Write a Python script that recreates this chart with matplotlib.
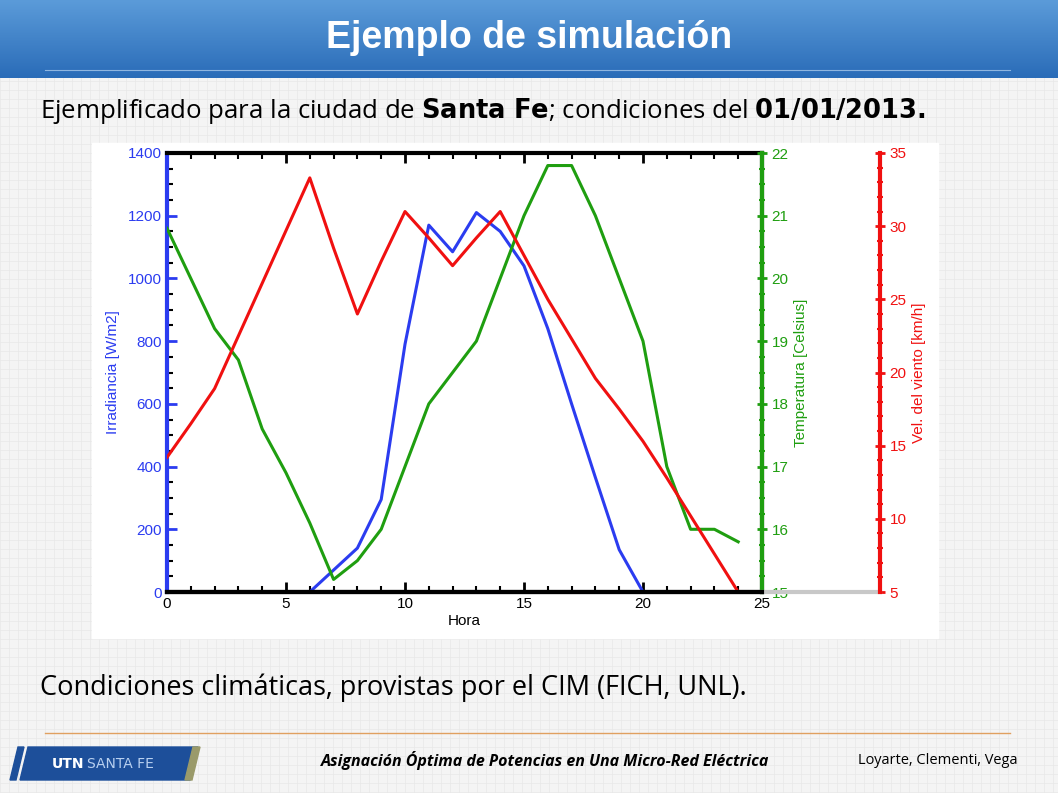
import matplotlib
matplotlib.use('Agg')
import matplotlib.pyplot as plt
import numpy as np
from matplotlib.patches import Rectangle, Polygon

# ---- data ----
horas = list(range(0, 25))
irradiancia = [0, 0, 0, 0, 0, 0, 0, 70, 140, 295, 790, 1170, 1085, 1210, 1150,
               1040, 840, 600, 365, 135, 0, 0, 0, 0, 0]
temperatura = [20.8, 20.0, 19.2, 18.7, 17.6, 16.9, 16.1, 15.2, 15.5, 16.0, 17.0, 18.0,
               18.5, 19.0, 20.0, 21.0, 21.8, 21.8, 21.0, 20.0, 19.0, 17.0, 16.0, 16.0, 15.8]
viento = [14.2, 16.5, 18.9, 22.5, 26.1, 29.7, 33.3, 28.5, 24.0, 27.6, 31.0, 29.2, 27.3,
          29.2, 31.0, 28.0, 25.0, 22.3, 19.6, 17.5, 15.3, 12.8, 10.2, 7.6, 5.0]

BLUE = '#2b3cf0'
GREEN = '#1f9e10'
RED = '#f01010'
FONT = 'Liberation Sans'

fig = plt.figure(figsize=(10.58, 7.93), dpi=100)
fig.patch.set_facecolor('#f4f4f4')

# background grid texture
bg = fig.add_axes([0, 0, 1, 1], zorder=-10)
bg.set_xlim(0, 1058); bg.set_ylim(793, 0); bg.axis('off')
for x in np.arange(0, 1058, 9):
    bg.axvline(x, color='#e8e8e8', lw=0.5, zorder=0)
for y in np.arange(0, 793, 9):
    bg.axhline(y, color='#e8e8e8', lw=0.5, zorder=0)

# title bar gradient
grad = np.linspace(0, 1, 80).reshape(-1, 1)
bg.imshow(grad, extent=[0, 1058, 78, 0], cmap=matplotlib.colors.LinearSegmentedColormap.from_list(
    'b', ['#5b9bd9', '#2a6cb8']), aspect='auto', zorder=1)
bg.set_xlim(0, 1058); bg.set_ylim(793, 0)
bg.plot([45, 1010], [70, 70], color='#8fb6e0', lw=0.8, zorder=2)
bg.text(529, 38, 'Ejemplo de simulación', color='white', fontsize=27, fontweight='bold',
        ha='center', va='center', family=FONT, zorder=3)

bg.text(40, 111, 'Ejemplificado para la ciudad de $\\bf{Santa\\ Fe}$; condiciones del $\\bf{01/01/2013.}$',
        fontsize=18.5, family='Open Sans', va='center', ha='left')
bg.text(40, 688, 'Condiciones climáticas, provistas por el CIM (FICH, UNL).',
        fontsize=19.5, family='Open Sans', va='center', ha='left')

# footer
bg.plot([45, 1010], [733, 733], color='#e0a060', lw=1)
bg.add_patch(Polygon([[28, 747], [198, 747], [190, 780], [20, 780]], color='#1d4f9a', zorder=2))
bg.add_patch(Polygon([[193, 747], [200, 747], [192, 780], [185, 780]], color='#9a9a6a', zorder=3))
bg.add_patch(Polygon([[18, 747], [24, 747], [16, 780], [10, 780]], color='#1d4f9a', zorder=3))
bg.text(52, 764, 'UTN', color='white', fontsize=10, fontweight='bold', va='center', zorder=4)
bg.text(87, 764, 'SANTA FE', color='#b8d0f0', fontsize=10, va='center', zorder=4)
bg.text(545, 761, 'Asignación Óptima de Potencias en Una Micro-Red Eléctrica', fontsize=11.5,
        style='italic', fontweight='bold', family='Open Sans', ha='center', va='center')
bg.text(1018, 761, 'Loyarte, Clementi, Vega', fontsize=10.5, family='Open Sans',
        ha='right', va='center')

# white chart area
bg.add_patch(Rectangle((92, 143), 846, 495, color='white', zorder=2))

# ---- main chart ----
ax = fig.add_axes([167/1058, 1 - 592/793, 595/1058, 439/793])
ax.set_facecolor('none')
ax.plot(horas, irradiancia, color=BLUE, lw=2.2, zorder=2)
ax.set_xlim(0, 25)
ax.set_ylim(0, 1400)
ax.set_xticks(range(0, 26, 5))
ax.set_yticks(range(0, 1401, 200))
ax.set_xticks(range(0, 26), minor=True)
ax.set_yticks(range(0, 1401, 50), minor=True)
ax.set_xlabel('Hora', fontsize=11, family=FONT, labelpad=2)
ax.set_ylabel('Irradiancia [W/m2]', fontsize=11, family=FONT, color=BLUE, labelpad=6)
ax.tick_params(axis='both', direction='in', width=2, length=7, labelsize=11, top=True)
ax.tick_params(axis='both', which='minor', direction='in', width=1.5, length=4, top=True)
ax.tick_params(axis='y', colors=BLUE)
ax.spines['left'].set_color(BLUE)
ax.spines['top'].set_color('black')
ax.spines['bottom'].set_color('black')
for s in ['left', 'top', 'bottom', 'right']:
    ax.spines[s].set_linewidth(3)
    ax.spines[s].set_zorder(5)
for lab in ax.get_xticklabels() + ax.get_yticklabels():
    lab.set_family(FONT)

ax2 = ax.twinx()
ax2.plot(horas, temperatura, color=GREEN, lw=2.2)
ax2.set_ylim(15, 22)
ax2.set_yticks(range(15, 23))
ax2.set_yticks(np.arange(15, 22.01, 0.25), minor=True)
ax2.set_ylabel('Temperatura [Celsius]', fontsize=11, family=FONT, color=GREEN, labelpad=4)
ax2.tick_params(axis='y', direction='inout', colors=GREEN, width=2, length=7, labelsize=11)
ax2.tick_params(axis='y', which='minor', direction='inout', colors=GREEN, width=1.5, length=4)
ax2.spines['right'].set_color(GREEN)
ax2.spines['right'].set_linewidth(3)
for s in ['left', 'top', 'bottom']:
    ax2.spines[s].set_visible(False)
for lab in ax2.get_yticklabels():
    lab.set_family(FONT)

ax3 = ax.twinx()
ax3.plot(horas, viento, color=RED, lw=2.2)
ax3.set_ylim(5, 35)
ax3.set_yticks(range(5, 36, 5))
ax3.set_yticks(range(5, 36), minor=True)
ax3.spines['right'].set_position(('axes', 713/595))
ax3.spines['right'].set_color(RED)
ax3.spines['right'].set_linewidth(3)
ax3.spines['bottom'].set_visible(False)
ax3.spines['left'].set_visible(False)
ax3.spines['top'].set_visible(False)
ax3.set_ylabel('Vel. del viento [km/h]', fontsize=11, family=FONT, color=RED, labelpad=4)
ax3.tick_params(axis='y', direction='inout', colors=RED, width=2, length=7, labelsize=11)
ax3.tick_params(axis='y', which='minor', direction='inout', colors=RED, width=1.5, length=4)
for lab in ax3.get_yticklabels():
    lab.set_family(FONT)
ax3.plot([1, 713/595], [0, 0], transform=ax3.transAxes, color='#c8c8c8', lw=3, clip_on=False)
# keep black bottom axis above the blue zero segments
ax3.plot([0, 1], [0, 0], transform=ax3.transAxes, color='black', lw=3, clip_on=False)

fig.savefig('out.png', dpi=100)
